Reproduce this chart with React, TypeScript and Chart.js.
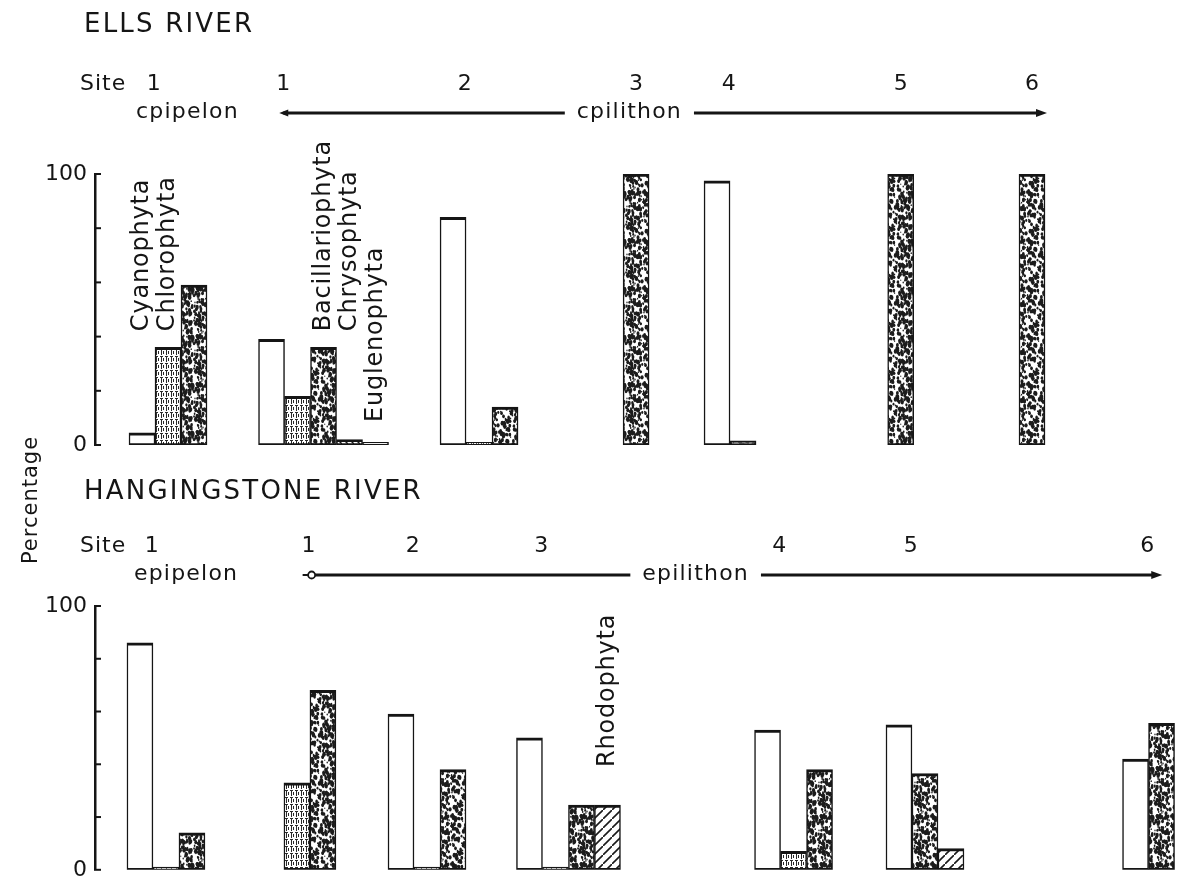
import React, { useEffect, useRef } from 'react';
import { Chart, registerables } from 'chart.js';

Chart.register(...registerables);

// ---------------- data ----------------
const PHYLA = ['Cyanophyta', 'Chlorophyta', 'Bacillariophyta', 'Chrysophyta', 'Euglenophyta', 'Rhodophyta'];

const Y_TICKS = [0, 20, 40, 60, 80, 100];
const Y_TICK_LABELS = ['0', '', '', '', '', '100'];

// Ells River (percentage of each phylum per site)
const ELLS_SITES = ['1', '1', '2', '3', '4', '5', '6'];
const ELLS_HABITATS = ['cpipelon', 'cpilithon'];
const ellsCyanophyta = [4.5, 39, 84, null, 97.5, null, null];
const ellsChlorophyta = [36, 18, 1, null, null, null, null];
const ellsBacillariophyta = [59, 36, 14, 100, 1.5, 100, 100];
const ellsChrysophyta = [null, 2, null, null, null, null, null];
const ellsEuglenophyta = [null, 1, null, null, null, null, null];
const ellsRhodophyta = [null, null, null, null, null, null, null];

// Hangingstone River
const HANG_SITES = ['1', '1', '2', '3', '4', '5', '6'];
const HANG_HABITATS = ['epipelon', 'epilithon'];
const hangCyanophyta = [86, null, 59, 50, 53, 55, 42];
const hangChlorophyta = [1, 33, 1, 1, 7, null, null];
const hangBacillariophyta = [14, 68, 38, 24.5, 38, 36.5, 55.5];
const hangChrysophyta = [null, null, null, null, null, null, null];
const hangEuglenophyta = [null, null, null, null, null, null, null];
const hangRhodophyta = [null, null, null, 24.5, null, 8, null];

// ---------------- layout (axis units 0..100 along the hidden x scale) ----------------
const ELLS_SITE_POS = [6.76, 21.16, 35.56, 50.1, 58.8, 74.6, 86.76];
const HANG_SITE_POS = [6.57, 19.9, 30.74, 43.84, 64.68, 76.85, 97.55];

const W = 1183;
const H = 891;
const INK = '#151515';
const FONT = '"DejaVu Sans", "Liberation Sans", sans-serif';

type Panel = {
  title: string;
  titleY: number;
  siteRowY: number;
  habitatRowY: number;
  sites: string[];
  habitats: string[];
  sitePos: number[];
  series: (number | null)[][];
  plotTop: number;
  plotBottom: number;
  phylumLabels: { phylum: number; site: number; from: number }[];
  tail: 'arrow' | 'circle';
  yTitle?: string;
};

const ELLS: Panel = {
  title: 'ELLS RIVER',
  titleY: 25,
  siteRowY: 84,
  habitatRowY: 112,
  sites: ELLS_SITES,
  habitats: ELLS_HABITATS,
  sitePos: ELLS_SITE_POS,
  series: [ellsCyanophyta, ellsChlorophyta, ellsBacillariophyta, ellsChrysophyta, ellsEuglenophyta, ellsRhodophyta],
  plotTop: 174,
  plotBottom: 445,
  phylumLabels: [
    { phylum: 0, site: 0, from: 42 },
    { phylum: 1, site: 0, from: 42 },
    { phylum: 2, site: 1, from: 42 },
    { phylum: 3, site: 1, from: 42 },
    { phylum: 4, site: 1, from: 8.5 },
  ],
  tail: 'arrow',
};

const HANG: Panel = {
  title: 'HANGINGSTONE RIVER',
  titleY: 492,
  siteRowY: 546,
  habitatRowY: 574,
  sites: HANG_SITES,
  habitats: HANG_HABITATS,
  sitePos: HANG_SITE_POS,
  series: [hangCyanophyta, hangChlorophyta, hangBacillariophyta, hangChrysophyta, hangEuglenophyta, hangRhodophyta],
  plotTop: 606,
  plotBottom: 875,
  phylumLabels: [{ phylum: 5, site: 3, from: 39 }],
  tail: 'circle',
  yTitle: 'Percentage',
};

// ---------------- fills ----------------
function hashNoise(i: number) {
  const v = Math.sin(i * 127.1 + 311.7) * 43758.5453;
  return v - Math.floor(v);
}

function tile(size: number, w2?: number) {
  const c = document.createElement('canvas');
  c.width = size;
  c.height = w2 ?? size;
  const g = c.getContext('2d')!;
  g.fillStyle = '#fff';
  g.fillRect(0, 0, c.width, c.height);
  return { c, g };
}

function makeFills(): (string | CanvasPattern)[] {
  // speckled (Bacillariophyta)
  const sp = tile(48);
  sp.g.fillStyle = '#1c1c1c';
  for (let i = 0; i < 330; i++) {
    const x = hashNoise(i * 3) * 48;
    const y = hashNoise(i * 3 + 1) * 48;
    const r = 0.5 + hashNoise(i * 3 + 2) * 1.3;
    for (const dx of [-48, 0, 48]) {
      for (const dy of [-48, 0, 48]) {
        sp.g.beginPath();
        sp.g.ellipse(x + dx, y + dy, r, r * 1.4, 0, 0, Math.PI * 2);
        sp.g.fill();
      }
    }
  }
  const speckle = sp.g.createPattern(sp.c, 'repeat')!;

  // fine grid (Chlorophyta)
  const gr = tile(5, 7);
  gr.g.fillStyle = '#2a2a2a';
  gr.g.fillRect(1, 0, 1, 5);
  gr.g.fillRect(3, 1, 1, 3);
  gr.g.fillRect(0, 6, 3, 1);
  const grid = gr.g.createPattern(gr.c, 'repeat')!;

  // diagonal hatch (Rhodophyta)
  const ha = tile(9);
  ha.g.strokeStyle = '#1a1a1a';
  ha.g.lineWidth = 1.6;
  ha.g.beginPath();
  ha.g.moveTo(-1, 10);
  ha.g.lineTo(10, -1);
  ha.g.stroke();
  const hatch = ha.g.createPattern(ha.c, 'repeat')!;

  // back hatch (Chrysophyta)
  const hb = tile(6);
  hb.g.strokeStyle = '#1a1a1a';
  hb.g.lineWidth = 1.4;
  hb.g.beginPath();
  hb.g.moveTo(-1, -1);
  hb.g.lineTo(7, 7);
  hb.g.stroke();
  const backHatch = hb.g.createPattern(hb.c, 'repeat')!;

  return ['#ffffff', grid, speckle, backHatch, '#ffffff', hatch];
}

// ---------------- drawing helpers ----------------
function drawText(
  ctx: CanvasRenderingContext2D,
  s: string,
  x: number,
  y: number,
  size: number,
  align: CanvasTextAlign,
  spacing = 0,
  rotate = false,
) {
  ctx.save();
  ctx.font = `${size}px ${FONT}`;
  (ctx as any).letterSpacing = `${spacing}px`;
  ctx.textAlign = align;
  ctx.textBaseline = 'middle';
  ctx.fillStyle = INK;
  ctx.translate(x, y);
  if (rotate) ctx.rotate(-Math.PI / 2);
  ctx.fillText(s, 0, 0);
  ctx.restore();
}

function textWidth(ctx: CanvasRenderingContext2D, s: string, size: number, spacing: number) {
  ctx.save();
  ctx.font = `${size}px ${FONT}`;
  (ctx as any).letterSpacing = `${spacing}px`;
  const w = ctx.measureText(s).width;
  ctx.restore();
  return w;
}

function siteInfo(chart: Chart, p: Panel) {
  return p.sitePos.map((_, i) => {
    let first: any = null;
    let n = 0;
    p.series.forEach((vals, k) => {
      if (vals[i] !== null && vals[i] !== undefined) {
        n++;
        if (!first) first = chart.getDatasetMeta(k).data[i];
      }
    });
    const x = first ? first.x : 0;
    const w = first ? first.width : 0;
    return { labelX: n > 1 ? x + 0.45 * w : x, left: x - w / 2 };
  });
}

function panelPlugin(p: Panel) {
  return {
    id: 'panelText',
    afterDraw(chart: Chart) {
      const ctx = chart.ctx;
      const yScale = chart.scales.y;
      const ax = chart.chartArea.left;

      // inward tick marks of the y axis
      ctx.save();
      ctx.strokeStyle = INK;
      ctx.lineWidth = 2;
      Y_TICKS.forEach((v) => {
        const py = yScale.getPixelForValue(v);
        ctx.beginPath();
        ctx.moveTo(ax - 1, py);
        ctx.lineTo(ax + 6, py);
        ctx.stroke();
      });
      ctx.restore();

      // river title
      drawText(ctx, p.title, 84, p.titleY, 26, 'left', 2.2);

      // site row
      drawText(ctx, 'Site', 80, p.siteRowY, 22, 'left', 1);
      const info = siteInfo(chart, p);
      info.forEach((s, i) => drawText(ctx, p.sites[i], s.labelX, p.siteRowY, 22, 'center'));

      // habitat row
      drawText(ctx, p.habitats[0], info[0].left + 7, p.habitatRowY, 22, 'left', 1.2);
      const x0 = info[1].labelX;
      const x1 = info[info.length - 1].labelX + 12;
      const ly = p.habitatRowY + 1;
      const tw = textWidth(ctx, p.habitats[1], 22, 1.2);
      const tc = x0 + 0.455 * (x1 - x0);
      drawText(ctx, p.habitats[1], tc, p.habitatRowY, 22, 'center', 1.2);
      ctx.save();
      ctx.strokeStyle = INK;
      ctx.fillStyle = INK;
      ctx.lineWidth = 3;
      ctx.beginPath();
      ctx.moveTo(x0, ly);
      ctx.lineTo(tc - tw / 2 - 12, ly);
      ctx.moveTo(tc + tw / 2 + 12, ly);
      ctx.lineTo(x1 - 6, ly);
      ctx.stroke();
      // head
      ctx.beginPath();
      ctx.moveTo(x1 + 3, ly);
      ctx.lineTo(x1 - 8, ly - 4);
      ctx.lineTo(x1 - 8, ly + 4);
      ctx.closePath();
      ctx.fill();
      // tail
      if (p.tail === 'arrow') {
        ctx.beginPath();
        ctx.moveTo(x0 - 4, ly);
        ctx.lineTo(x0 + 5, ly - 3.5);
        ctx.lineTo(x0 + 5, ly + 3.5);
        ctx.closePath();
        ctx.fill();
      } else {
        ctx.fillStyle = '#fff';
        ctx.lineWidth = 1.8;
        ctx.beginPath();
        ctx.arc(x0 + 3, ly, 3.5, 0, Math.PI * 2);
        ctx.fill();
        ctx.stroke();
        ctx.lineWidth = 2;
        ctx.beginPath();
        ctx.moveTo(x0 - 6, ly);
        ctx.lineTo(x0 - 0.5, ly);
        ctx.stroke();
      }
      ctx.restore();

      // rotated phylum names above bars
      p.phylumLabels.forEach((l) => {
        const el: any = chart.getDatasetMeta(l.phylum).data[l.site];
        drawText(ctx, PHYLA[l.phylum], el.x, yScale.getPixelForValue(l.from), 24, 'left', 0.8, true);
      });

      // y-axis title
      if (p.yTitle) drawText(ctx, p.yTitle, 32, 500, 21, 'center', 1, true);
    },
  };
}

function buildConfig(p: Panel, fills: (string | CanvasPattern)[]): any {
  return {
    type: 'bar',
    data: {
      datasets: PHYLA.map((name, k) => ({
        label: name,
        data: p.sitePos.map((x, i) => ({ x, y: p.series[k][i] })),
        backgroundColor: fills[k],
        borderColor: INK,
        borderWidth: { top: 3, left: 1.5, right: 1.5, bottom: 2.2 },
        borderSkipped: false,
        barThickness: 26,
        skipNull: true,
      })),
    },
    options: {
      animation: false,
      responsive: false,
      events: [],
      layout: { padding: { left: 0, right: 8, top: p.plotTop, bottom: H - p.plotBottom } },
      plugins: { legend: { display: false }, tooltip: { enabled: false } },
      scales: {
        x: { type: 'linear', min: 0, max: 100, display: false, offset: false },
        y: {
          min: 0,
          max: 100,
          afterFit: (s: any) => {
            s.width = 95;
          },
          ticks: {
            stepSize: 20,
            autoSkip: false,
            padding: 8,
            color: INK,
            font: { family: FONT, size: 22 },
            callback: (v: any) => {
              const i = Y_TICKS.indexOf(Number(v));
              return i >= 0 ? Y_TICK_LABELS[i] : '';
            },
          },
          grid: { display: false, drawTicks: false },
          border: { display: true, color: INK, width: 2.5 },
        },
      },
    },
    plugins: [panelPlugin(p)],
  };
}

export default function App() {
  const topRef = useRef<HTMLCanvasElement>(null);
  const botRef = useRef<HTMLCanvasElement>(null);

  useEffect(() => {
    const fills = makeFills();
    const c1 = new Chart(topRef.current!, buildConfig(ELLS, fills));
    const c2 = new Chart(botRef.current!, buildConfig(HANG, fills));
    return () => {
      c1.destroy();
      c2.destroy();
    };
  }, []);

  return (
    <div style={{ position: 'fixed', left: 0, top: 0, width: W, height: H, background: '#fff' }}>
      <canvas ref={topRef} width={W} height={H} style={{ position: 'absolute', left: 0, top: 0 }} />
      <canvas ref={botRef} width={W} height={H} style={{ position: 'absolute', left: 0, top: 0 }} />
    </div>
  );
}
